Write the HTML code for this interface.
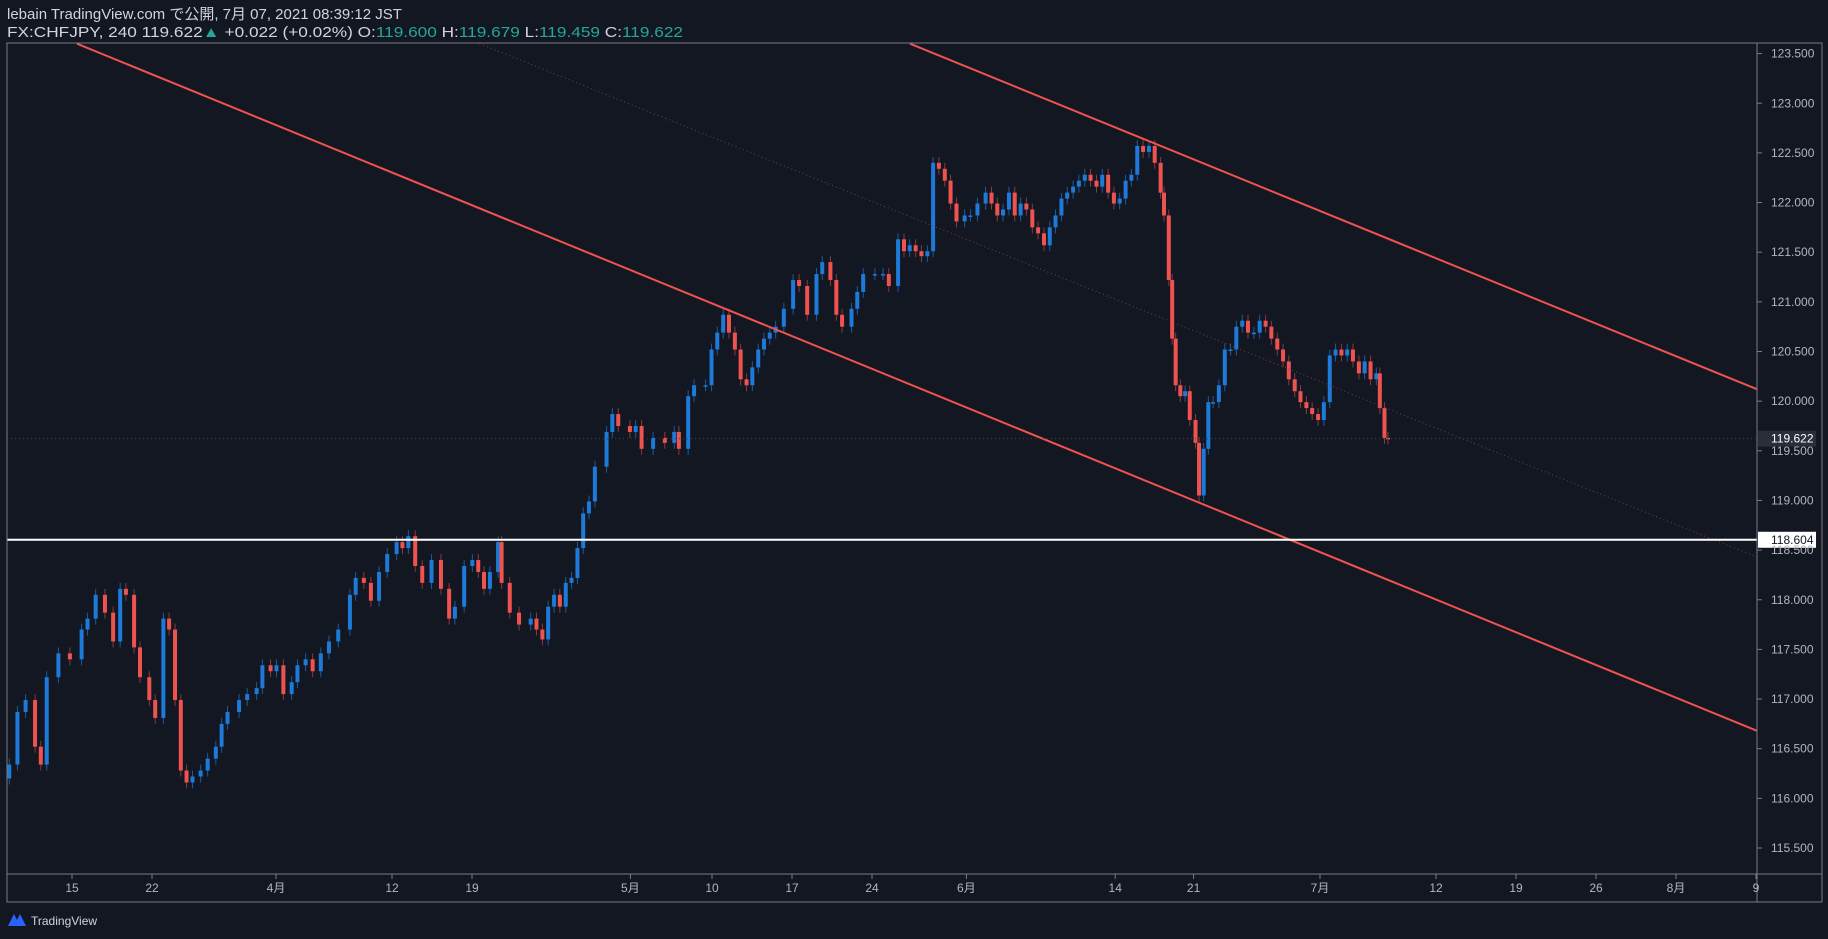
<!DOCTYPE html>
<html><head><meta charset="utf-8"><style>
html,body{margin:0;padding:0;background:#131722;width:1828px;height:939px;overflow:hidden}
svg{display:block}
text{font-family:"Liberation Sans","Noto Sans CJK JP",sans-serif}
</style></head><body>
<svg id="chart" width="1828" height="939" xmlns="http://www.w3.org/2000/svg">
<rect x="0" y="0" width="1828" height="939" fill="#131722"/>
<text x="7" y="19" font-size="15" fill="#d1d4dc">lebain TradingView.com で公開, 7月 07, 2021 08:39:12 JST</text>
<text x="7" y="37" font-size="15" fill="#d1d4dc" textLength="676" lengthAdjust="spacingAndGlyphs">FX:CHFJPY, 240 119.622<tspan fill="#26a69a">▲</tspan> +0.022 (+0.02%) O:<tspan fill="#26a69a">119.600</tspan> H:<tspan fill="#26a69a">119.679</tspan> L:<tspan fill="#26a69a">119.459</tspan> C:<tspan fill="#26a69a">119.622</tspan></text>
<g id="candles"></g>
<g id="lines"></g>
<rect x="7" y="43" width="1750" height="831" fill="none" stroke="#787b86" stroke-width="1"/>
<rect x="1757" y="43" width="65" height="859" fill="none" stroke="#787b86" stroke-width="1"/>
<rect x="7" y="874" width="1815" height="28" fill="none" stroke="#787b86" stroke-width="1"/>
<g id="yaxis"></g>
<g id="xaxis"></g>
<g>
<path d="M8 926 L14 914 L17 920 L20 914 L26 926 Z" fill="#2962ff"/>
<text x="31" y="925" font-size="12" fill="#d1d4dc">TradingView</text>
</g>
</svg>
<script>
const priceTicks=[123.5,123.0,122.5,122.0,121.5,121.0,120.5,120.0,119.5,119.0,118.5,118.0,117.5,117.0,116.5,116.0,115.5];
const timeLabels=["15","22","4月","12","19","5月","10","17","24","6月","14","21","7月","12","19","26","8月","9"];
const timeLabelDays=[5,10,17.75,25,30,39.9,45,50,55,60.9,70.2,75.1,83,90.25,95.25,100.25,105.25,110.25];
// bar times in trading days
const barDays=[1.08,1.59,2.10,2.69,3.05,3.42,4.15,4.87,5.60,5.97,6.48,7.06,7.57,8.01,8.37,8.88,9.25,9.83,10.20,10.71,11.07,11.44,11.80,12.16,12.53,13.04,13.48,13.99,14.35,14.72,15.44,15.95,16.54,16.90,17.41,17.78,18.21,18.73,19.09,19.60,20.04,20.55,21.06,21.64,22.37,22.73,23.24,23.68,24.19,24.70,25.29,25.65,26.02,26.45,26.89,27.47,28.06,28.57,28.93,29.51,30.02,30.39,30.75,31.12,31.63,31.85,32.36,32.94,33.67,34.03,34.40,34.76,35.13,35.49,35.86,36.22,36.59,36.95,37.31,37.68,38.41,38.77,39.14,39.87,40.23,40.60,41.32,42.05,42.64,42.93,43.51,43.88,44.60,44.97,45.33,45.70,46.06,46.43,46.79,47.16,47.52,47.89,48.25,48.61,48.98,49.49,50.07,50.44,50.95,51.53,51.89,52.40,52.77,53.13,53.72,54.08,54.45,55.18,55.69,56.05,56.63,57.00,57.36,57.73,58.09,58.46,58.82,59.18,59.55,59.91,60.28,60.79,61.15,61.59,62.10,62.47,62.83,63.19,63.56,63.92,64.29,64.65,65.02,65.38,65.75,66.11,66.47,66.84,67.20,67.57,67.93,68.30,68.66,69.03,69.39,69.76,70.12,70.48,70.85,71.21,71.58,71.94,72.31,72.67,73.04,73.25,73.55,73.76,73.98,74.27,74.57,74.86,75.22,75.44,75.73,76.02,76.32,76.68,77.05,77.41,77.77,78.14,78.50,78.87,79.23,79.60,79.96,80.33,80.69,81.05,81.42,81.78,82.15,82.51,82.88,83.24,83.61,83.97,84.34,84.70,85.06,85.43,85.79,86.16,86.52,86.74,87.03,87.25];
const closes=[116.34,116.87,116.99,116.52,116.34,117.22,117.46,117.40,117.70,117.81,118.05,117.87,117.58,118.11,118.05,117.52,117.22,116.99,116.81,117.81,117.70,116.99,116.28,116.16,116.22,116.28,116.40,116.52,116.75,116.87,116.99,117.05,117.11,117.34,117.28,117.34,117.05,117.17,117.34,117.40,117.28,117.46,117.58,117.70,118.05,118.22,118.17,117.99,118.28,118.46,118.58,118.52,118.64,118.34,118.17,118.40,118.11,117.81,117.93,118.34,118.40,118.28,118.11,118.28,118.58,118.17,117.87,117.75,117.81,117.70,117.60,117.93,118.05,117.93,118.17,118.22,118.52,118.87,118.99,119.34,119.69,119.87,119.75,119.69,119.75,119.52,119.63,119.58,119.69,119.52,120.05,120.16,120.16,120.52,120.69,120.87,120.69,120.52,120.22,120.16,120.34,120.52,120.63,120.69,120.75,120.93,121.22,121.16,120.87,121.28,121.40,121.22,120.87,120.75,120.93,121.10,121.28,121.28,121.28,121.16,121.63,121.51,121.57,121.51,121.46,121.51,122.40,122.34,122.22,121.99,121.81,121.87,121.87,121.99,122.10,121.99,121.87,121.93,122.10,121.87,121.99,121.93,121.75,121.69,121.57,121.75,121.87,122.04,122.10,122.16,122.22,122.28,122.22,122.16,122.28,122.10,121.99,122.04,122.22,122.28,122.57,122.51,122.57,122.40,122.10,121.87,121.22,120.63,120.16,120.05,120.10,119.81,119.58,119.05,119.52,119.99,119.99,120.16,120.52,120.52,120.75,120.81,120.69,120.69,120.81,120.75,120.63,120.52,120.40,120.22,120.10,119.99,119.93,119.87,119.81,119.99,120.46,120.52,120.46,120.52,120.40,120.28,120.40,120.22,120.28,119.93,119.63,119.622];
const openFirst=116.2;
const hLevel=118.604;
const lastPrice=119.622;
const channelLower=[[0.04,123.6],[1.0,116.68]];
const channelUpper=[[0.516,123.6],[1.0,120.12]];
const channelMid=[[0.27,123.6],[1.0,118.43]];

const NS="http://www.w3.org/2000/svg";
const X0=7,X1=1757;
function y(p){return 53.6+(123.5-p)*99.3;}
function fx(f){return X0+f*(X1-X0);}
function dayX(d){return -8+d*16;}
function mk(tag,attrs,parent){const e=document.createElementNS(NS,tag);for(const k in attrs)e.setAttribute(k,attrs[k]);parent.appendChild(e);return e;}

const yg=document.getElementById('yaxis');
priceTicks.forEach(p=>{
  const t=mk('text',{x:1771,y:y(p)+4,'font-size':12,fill:'#b2b5be'},yg);
  t.textContent=p.toFixed(3);
  
  
  const l=mk('line',{x1:1757,x2:1762,y1:y(p),y2:y(p),stroke:'#787b86'},yg);
  
  
});
const xg=document.getElementById('xaxis');
timeLabels.forEach((s,i)=>{
  const x=dayX(timeLabelDays[i]);
  const l=mk('line',{x1:x,x2:x,y1:874,y2:879,stroke:'#787b86'},xg);
  
  
  const t=mk('text',{x:x,y:892,'font-size':12,fill:'#b2b5be','text-anchor':'middle'},xg);
  t.textContent=s;
  
  
});

const cg=document.getElementById('candles');
const n=Math.min(closes.length,barDays.length);
for(let i=0;i<n;i++){
  const c=closes[i];
  const o=i===0?openFirst:closes[i-1];
  const up=c>=o;
  const col=up?'#1e7ad9':'#ef5350';
  const hi=Math.max(o,c)+0.06, lo=Math.min(o,c)-0.06;
  const x=dayX(barDays[i]);
  const wk=mk('line',{x1:x,x2:x,y1:y(hi),y2:y(lo),stroke:up?'#1e5a9e':'#8a3a3e','stroke-width':1},cg);
  
  
  const b=mk('rect',{x:x-2,y:y(Math.max(o,c)),width:4,height:Math.max(1.5,Math.abs(y(o)-y(c))),fill:col},cg);
  
  
}

const lg=document.getElementById('lines');
function seg(pts,attrs,name){
  const l=mk('line',Object.assign({x1:fx(pts[0][0]),y1:y(pts[0][1]),x2:fx(pts[1][0]),y2:y(pts[1][1])},attrs),lg);
  
  
}
seg(channelMid,{stroke:'#7a3a3e','stroke-width':1,'stroke-dasharray':'1 3'},'channel-midline');
seg(channelLower,{stroke:'#ef5350','stroke-width':2},'channel-lower-line');
seg(channelUpper,{stroke:'#ef5350','stroke-width':2},'channel-upper-line');
const cp=mk('line',{x1:X0,x2:X1,y1:y(lastPrice),y2:y(lastPrice),stroke:'#3a3f4b','stroke-width':1,'stroke-dasharray':'1 3'},lg);


const hl=mk('line',{x1:X0,x2:X1,y1:y(hLevel),y2:y(hLevel),stroke:'#ffffff','stroke-width':2},lg);


const cpb=mk('rect',{x:1758,y:y(lastPrice)-8,width:58,height:16,fill:'#2a2e39'},lg);


const cpt=mk('text',{x:1771,y:y(lastPrice)+4,'font-size':12,fill:'#ffffff'},lg);
cpt.textContent=lastPrice.toFixed(3);


const hb=mk('rect',{x:1758,y:y(hLevel)-8,width:58,height:16,fill:'#ffffff'},lg);


const ht=mk('text',{x:1771,y:y(hLevel)+4,'font-size':12,fill:'#131722'},lg);
ht.textContent=hLevel.toFixed(3);


</script>
</body></html>
